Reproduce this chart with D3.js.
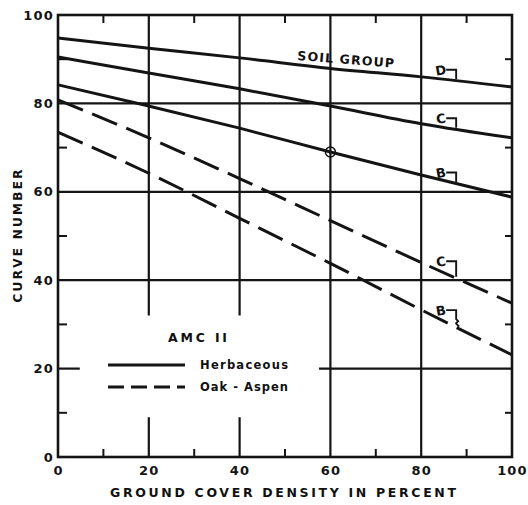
<!DOCTYPE html>
<html>
<head>
<meta charset="utf-8">
<script src="https://cdn.jsdelivr.net/npm/d3@7"></script>
<style>
  body { margin: 0; background: #fff; }
  svg text { font-family: "DejaVu Sans", sans-serif; font-weight: bold; fill: #111; }
</style>
</head>
<body>
<script>
// ground cover density (%) where the curves were read
var cover = [0, 20, 40, 60, 80, 100];

// curve numbers, AMC II
var herbD = [94.8, 92.5, 90.3, 87.9, 86.0, 83.7];
var herbC = [90.5, 86.9, 83.3, 79.4, 75.4, 72.2];
var herbB = [84.2, 79.4, 74.4, 69.0, 63.8, 58.8];
var oakC = [80.8, 72.2, 63.0, 53.5, 44.0, 34.8];
var oakB = [73.5, 64.2, 54.0, 43.8, 33.3, 23.1];

var xTicks = [0, 20, 40, 60, 80, 100];
var yTicks = [0, 20, 40, 60, 80, 100];
var minorTicks = [10, 30, 50, 70, 90];

var series = [
    {name: "D", kind: "Herbaceous", values: herbD},
    {name: "C", kind: "Herbaceous", values: herbC},
    {name: "B", kind: "Herbaceous", values: herbB},
    {name: "C", kind: "Oak-Aspen", values: oakC},
    {name: "B", kind: "Oak-Aspen", values: oakB}
];

var W = 528, H = 505;
var x = d3.scaleLinear().domain([0, 100]).range([58, 512]);
var y = d3.scaleLinear().domain([0, 100]).range([457, 15]);

var svg = d3.select("body").append("svg")
    .attr("width", W)
    .attr("height", H);

var ink = "#141414";

// grid, drawn in pieces like the original (gaps leave room for the legend)
var hGrid = [
    {at: 80, from: 0, to: 100},
    {at: 60, from: 0, to: 100},
    {at: 40, from: 0, to: 100},
    {at: 20, from: 0, to: 4.8},
    {at: 20, from: 57.5, to: 100}
];
var vGrid = [
    {at: 20, from: 32, to: 100}, {at: 20, from: 0, to: 9},
    {at: 40, from: 32, to: 100}, {at: 40, from: 0, to: 9},
    {at: 60, from: 0, to: 100},
    {at: 80, from: 0, to: 100}
];

var grid = svg.append("g").attr("stroke", ink).attr("stroke-width", 2.2);
grid.selectAll(".h").data(hGrid).enter().append("line")
    .attr("x1", function(d) { return x(d.from); })
    .attr("x2", function(d) { return x(d.to); })
    .attr("y1", function(d) { return y(d.at); })
    .attr("y2", function(d) { return y(d.at); });
grid.selectAll(".v").data(vGrid).enter().append("line")
    .attr("y1", function(d) { return y(d.from); })
    .attr("y2", function(d) { return y(d.to); })
    .attr("x1", function(d) { return x(d.at); })
    .attr("x2", function(d) { return x(d.at); });

// minor ticks on all four sides, pointing inward
var minor = svg.append("g").attr("stroke", ink).attr("stroke-width", 2);
minorTicks.forEach(function(v) {
    minor.append("line").attr("x1", x(v)).attr("x2", x(v)).attr("y1", y(0)).attr("y2", y(0) - 8);
    minor.append("line").attr("x1", x(v)).attr("x2", x(v)).attr("y1", y(100)).attr("y2", y(100) + 8);
    minor.append("line").attr("y1", y(v)).attr("y2", y(v)).attr("x1", x(0)).attr("x2", x(0) + 9);
    minor.append("line").attr("y1", y(v)).attr("y2", y(v)).attr("x1", x(100)).attr("x2", x(100) - 7);
});

// frame
svg.append("rect")
    .attr("x", x(0)).attr("y", y(100))
    .attr("width", x(100) - x(0)).attr("height", y(0) - y(100))
    .attr("fill", "none").attr("stroke", ink).attr("stroke-width", 2.6);

// axes (labels only, frame is the rect above)
var xAxis = svg.append("g")
    .attr("transform", "translate(0," + y(0) + ")")
    .call(d3.axisBottom(x).tickValues(xTicks).tickSize(0).tickPadding(9));
var yAxis = svg.append("g")
    .attr("transform", "translate(" + x(0) + ",0)")
    .call(d3.axisLeft(y).tickValues(yTicks).tickSize(0).tickPadding(4));
[xAxis, yAxis].forEach(function(a) {
    a.select(".domain").remove();
    a.selectAll("text").style("font-size", "13px").style("fill", ink)
        .style("letter-spacing", "1.2px")
        .style("font-family", "'DejaVu Sans', sans-serif").style("font-weight", "bold");
});

svg.append("text")
    .attr("x", 283).attr("y", 497)
    .attr("text-anchor", "middle")
    .attr("textLength", 346).attr("lengthAdjust", "spacing")
    .style("font-size", "12.5px")
    .text("GROUND COVER DENSITY IN PERCENT");

svg.append("text")
    .attr("transform", "translate(22,236) rotate(-90)")
    .attr("text-anchor", "middle")
    .attr("textLength", 133).attr("lengthAdjust", "spacing")
    .style("font-size", "12px")
    .text("CURVE NUMBER");

// curves
var line = d3.line()
    .x(function(d, i) { return x(cover[i]); })
    .y(function(d) { return y(d); })
    .curve(d3.curveMonotoneX);

svg.selectAll(".curve").data(series).enter().append("path")
    .attr("class", "curve")
    .attr("d", function(d) { return line(d.values); })
    .attr("fill", "none")
    .attr("stroke", ink)
    .attr("stroke-width", 3)
    .attr("stroke-dasharray", function(d) { return d.kind == "Oak-Aspen" ? "27,10" : null; });

// value of a series at any cover
function at(values, c) {
    return d3.scaleLinear().domain(cover).range(values)(c);
}

// soil group letters with their little hooks down to the curve
var labelAt = 84.3, hookFrom = 85.5, hookTo = 87.7;
var labels = svg.append("g");
series.forEach(function(s) {
    var yl = y(at(s.values, hookTo)) - (s.kind == "Oak-Aspen" ? 17 : 11);
    labels.append("text")
        .attr("x", x(labelAt)).attr("y", yl + 5)
        .attr("text-anchor", "middle")
        .attr("transform", "rotate(-10," + x(labelAt) + "," + yl + ")")
        .style("font-size", "13px")
        .text(s.name);
    var yEnd = y(at(s.values, hookTo)) - 1.5;
    var p = "M" + x(hookFrom) + "," + yl + "H" + x(hookTo);
    if (s.kind == "Oak-Aspen" && s.name == "B") {
        p += "V" + (yl + 9) + "l2,2l-2,2V" + (yEnd - 2) + "l3,3";
    } else {
        p += "V" + yEnd;
    }
    labels.append("path")
        .attr("d", p)
        .attr("fill", "none").attr("stroke", ink).attr("stroke-width", 1.9);
});

svg.append("text")
    .attr("transform", "translate(297,60) rotate(4.5)")
    .attr("textLength", 97).attr("lengthAdjust", "spacing")
    .style("font-size", "12.5px")
    .text("SOIL  GROUP");

// checked point on the B curve
svg.append("circle")
    .attr("cx", x(60)).attr("cy", y(at(herbB, 60)))
    .attr("r", 5)
    .attr("fill", "none").attr("stroke", ink).attr("stroke-width", 1.5);

// legend
var legend = svg.append("g");
legend.append("text")
    .attr("x", 168).attr("y", 342)
    .attr("textLength", 59).attr("lengthAdjust", "spacing")
    .style("font-size", "12.5px")
    .text("AMC II");
var legendRows = [
    {label: "Herbaceous", dash: null, yy: 365},
    {label: "Oak - Aspen", dash: "16,7", yy: 387}
];
legendRows.forEach(function(r) {
    legend.append("line")
        .attr("x1", 108).attr("x2", 185)
        .attr("y1", r.yy).attr("y2", r.yy)
        .attr("stroke", ink).attr("stroke-width", 3)
        .attr("stroke-dasharray", r.dash);
    legend.append("text")
        .attr("x", 200).attr("y", r.yy + 4)
        .attr("textLength", 88).attr("lengthAdjust", "spacing")
        .style("font-size", "11.5px")
        .text(r.label);
});
</script>
</body>
</html>
